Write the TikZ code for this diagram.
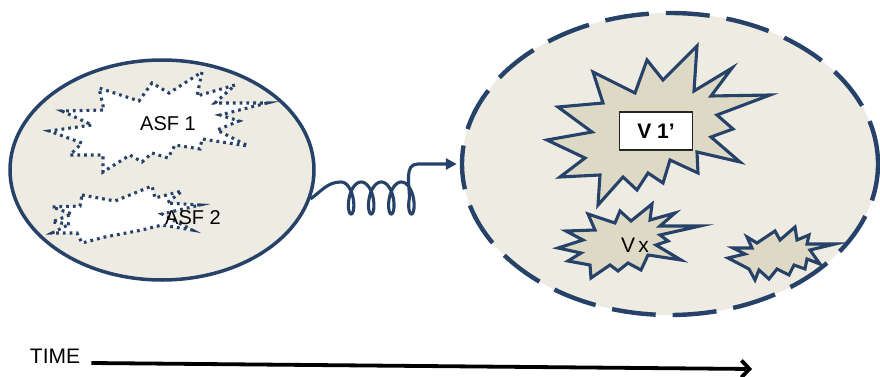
\documentclass[tikz,border=0pt]{standalone}
\usepackage{fontspec}
\setmainfont{Liberation Sans}
\usetikzlibrary{shapes.geometric,arrows.meta,calc}
\definecolor{navy}{RGB}{38,66,104}
\definecolor{cellbg}{RGB}{238,236,226}
\definecolor{starbg}{RGB}{221,217,196}
\tikzset{
	cell/.style={ellipse, draw=navy, fill=cellbg, inner sep=0pt},
	asfstar/.style={draw=navy, fill=white, line width=3.1, dash pattern=on 2.8 off 4},
	vstar/.style={draw=navy, fill=starbg, line width=3.1},
	lbl/.style={inner sep=0pt},
	spring/.style={draw=navy, line width=3.1, -{Triangle[length=11pt, width=11pt]}},
	timeline/.style={line width=3.8, -{Straight Barb[length=8pt, width=17pt]}},
}

\begin{document}
\begin{tikzpicture}[x=1pt, y=-1pt, font=\fontsize{20}{24}\selectfont]
		\useasboundingbox (0,0) rectangle (880,377);
		% left cell
		\node[cell, line width=3.5, minimum width=304, minimum height=220] (lcell) at (162,170) {};
		\draw[asfstar] (202,72) -- (197,96) -- (235,85) -- (215,103) -- (267,103) -- (220,115)
			-- (239,121) -- (217,130) -- (248,146) -- (202,139) -- (200,149) -- (175,145)
			-- (168,158) -- (152,153) -- (142,162) -- (130,155) -- (103,172) -- (103,155)
			-- (70,155) -- (82,143) -- (49,131) -- (92,125) -- (62,111) -- (104,110)
			-- (99,88) -- (139,101) -- (152,83) -- (169,93) -- cycle;
		\draw[asfstar] (82,195) -- (115,201) -- (152,186) -- (155,198) -- (182,191) -- (167,203)
			-- (200,205) -- (162,214) -- (192,230) -- (162,225) -- (142,230) -- (105,237)
			-- (82,243) -- (77,233) -- (52,233) -- (70,224) -- (52,222) -- (72,214)
			-- (52,207) -- (80,206) -- cycle;
		\node[lbl] (asf1) at (168,124) {ASF 1};
		\node[lbl] (asf2) at (193,218) {ASF 2};
		% right cell
		\node[cell, line width=4.4, dash pattern=on 44 off 17, minimum width=416, minimum height=302] (rcell) at (670,164) {};
		\draw[vstar] (697,46) -- (694,91) -- (732,68) -- (711,96) -- (770,95) -- (717,115)
			-- (733,129) -- (711,137) -- (740,162) -- (697,152) -- (698,173) -- (670,160)
			-- (663,183) -- (648,173) -- (637,190) -- (623,177) -- (598,205) -- (600,175)
			-- (560,177) -- (585,158) -- (547,140) -- (592,132) -- (558,107) -- (603,103)
			-- (593,72) -- (635,93) -- (647,60) -- (663,80) -- cycle;
		\draw[vstar] (588,214) -- (615,223) -- (620,211) -- (631,221) -- (652,204) -- (650,220)
			-- (675,213) -- (660,226) -- (700,226) -- (660,235) -- (668,241) -- (656,245)
			-- (681,260) -- (648,255) -- (641,270) -- (628,263) -- (618,271) -- (610,265)
			-- (591,278) -- (590,265) -- (568,261) -- (581,253) -- (558,248) -- (583,240)
			-- (566,231) -- (595,230) -- cycle;
		\draw[vstar] (747,237) -- (757,243) -- (775,231) -- (780,240) -- (795,227) -- (797,240)
			-- (809,235) -- (807,244) -- (835,244) -- (810,250) -- (820,264) -- (807,259)
			-- (805,269) -- (794,265) -- (789,275) -- (777,269) -- (769,279) -- (759,270)
			-- (755,280) -- (749,269) -- (728,258) -- (745,254) -- (733,248) -- (752,248) -- cycle;
		\node[draw=black!85, fill=white, line width=1.2, minimum width=73, minimum height=38, inner sep=0pt,
			font=\bfseries\fontsize{21}{25}\selectfont] (v1box) at (656,131) {V 1’};
		\node[lbl, font=\fontsize{21}{25}\selectfont] (vx) at (635,245) {V\,x};
		% spring between the cells
		\draw[spring] (lcell.-11) to[out=35, in=180] (341,182)
			-- plot[domain=180:1530, samples=180, smooth] ({331+0.05585*\x-7*sin(\x)}, {198+16*cos(\x)})
			to[out=90, in=180] ($(rcell.west)+(-42,0)$) -- ($(rcell.west)+(-3,0)$);
		% time axis
		\node[lbl, font=\fontsize{21}{25}\selectfont] (time) at (55,356) {TIME};
		\coordinate (tend) at (752,369);
		\draw[timeline] ($(time.east)+(11,7)$) -- (tend);
	\end{tikzpicture}
\end{document}
